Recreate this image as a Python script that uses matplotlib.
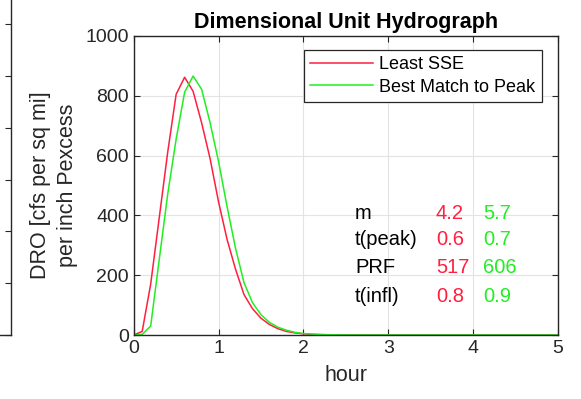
import matplotlib
matplotlib.use('Agg')
import matplotlib.pyplot as plt

plt.rcParams['font.family'] = ['Liberation Sans', 'DejaVu Sans']

# hydrograph ordinates, every 0.1 hour from 0 to 5
hours = [i / 10 for i in range(51)]
least_sse = [0, 12, 170, 390, 610, 805, 862, 815, 710, 590,
             445, 320, 220, 135, 88, 56, 35, 21, 12, 7,
             4, 2, 1, 0.5, 0.3, 0.2, 0.1, 0, 0, 0,
             0, 0, 0, 0, 0, 0, 0, 0, 0, 0,
             0, 0, 0, 0, 0, 0, 0, 0, 0, 0, 0]
best_peak = [0, 2, 30, 250, 470, 655, 812, 866, 822, 710,
             580, 430, 290, 175, 108, 68, 42, 26, 16, 9,
             5, 3, 2, 1, 0.5, 0.3, 0.2, 0.1, 0, 0,
             0, 0, 0, 0, 0, 0, 0, 0, 0, 0,
             0, 0, 0, 0, 0, 0, 0, 0, 0, 0, 0]

param_names = ['m', 't(peak)', 'PRF', 't(infl)']
sse_params = ['4.2', '0.6', '517', '0.8']
peak_params = ['5.7', '0.7', '606', '0.9']

red = '#ff1f3f'
green = '#22ee22'
axis_col = '#262626'

fig = plt.figure(figsize=(5.81, 3.99), dpi=100)

# remnant of the neighbouring subplot on the left edge
W, H = 581, 399
left_ax = fig.add_axes([-0.5, (H - 335) / H, 0.5 + 11 / W, 362.6 / H])
left_ax.set_ylim(0, 7)
left_ax.set_yticks(range(8))
left_ax.set_xticks([])
left_ax.yaxis.tick_right()
left_ax.tick_params(axis='y', direction='in', length=4.5, width=0.8,
                    color=axis_col, labelright=False)
for side in ['left', 'top']:
    left_ax.spines[side].set_visible(False)
for side in ['right', 'bottom']:
    left_ax.spines[side].set_color(axis_col)
    left_ax.spines[side].set_linewidth(1.0)

ax = fig.add_axes([133.7 / W, (H - 335) / H, 424.3 / W, 299 / H])
ax.plot(hours, least_sse, color=red, lw=1.1, label='Least SSE')
ax.plot(hours, best_peak, color=green, lw=1.1, label='Best Match to Peak')

ax.set_xlim(0, 5)
ax.set_ylim(0, 1000)
ax.set_xticks(range(6))
ax.set_yticks(range(0, 1001, 200))
ax.grid(True, color='#e3e3e3', lw=0.8)
ax.set_axisbelow(True)
ax.tick_params(direction='in', length=4, width=0.8, color=axis_col,
               labelsize=14, labelcolor=axis_col, top=True, right=True)
for s in ax.spines.values():
    s.set_color(axis_col)
    s.set_linewidth(1.0)

ax.set_title('Dimensional Unit Hydrograph', fontsize=15.5, fontweight='bold')
ax.set_xlabel('hour', fontsize=15.5, color=axis_col, labelpad=6)
ax.set_ylabel('DRO [cfs per sq mi]\nper inch Pexcess', fontsize=15.5,
              color=axis_col, labelpad=5, linespacing=1.4)

leg = ax.legend(loc='upper right', bbox_to_anchor=(0.962, 0.953),
                borderaxespad=0, fontsize=13, handlelength=3.5,
                handletextpad=0.35, labelspacing=0.3, borderpad=0.35,
                fancybox=False, framealpha=1)
leg.get_frame().set_edgecolor(axis_col)
leg.get_frame().set_linewidth(0.9)

row_y = [408, 318, 227, 130]
for name, a, b, y in zip(param_names, sse_params, peak_params, row_y):
    ax.text(2.61, y, name, fontsize=14.5, color='black', va='center')
    ax.text(3.56, y, a, fontsize=14.5, color=red, va='center')
    ax.text(4.12, y, b, fontsize=14.5, color=green, va='center')

fig.savefig('out.png', dpi=100, facecolor='white')
